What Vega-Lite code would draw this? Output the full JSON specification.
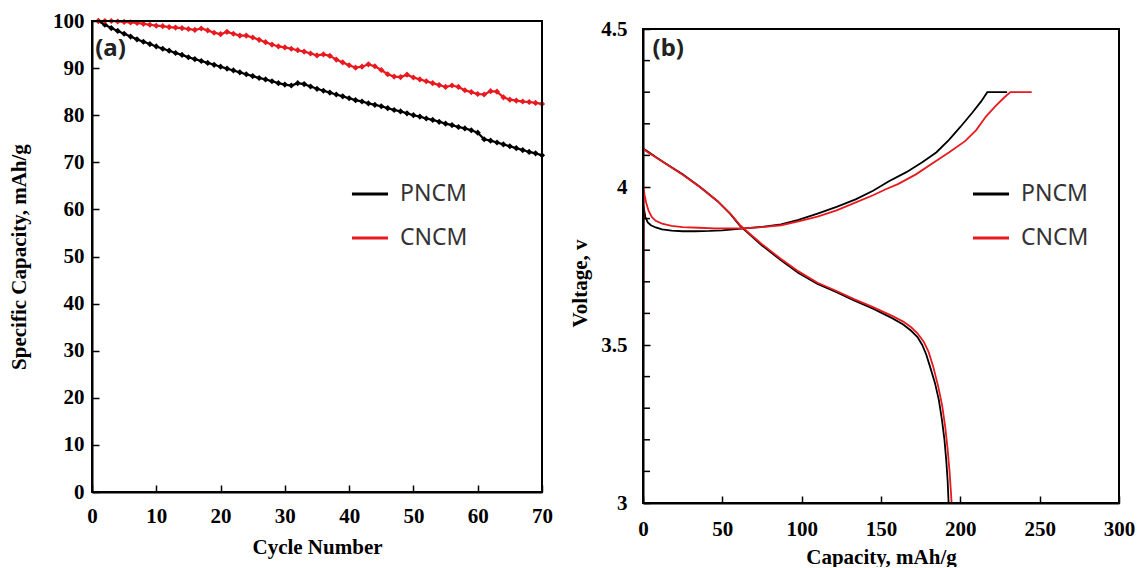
{
  "$schema": "https://vega.github.io/schema/vega-lite/v6.json",
  "padding": {"left": 8, "top": 10, "right": 0, "bottom": 0},
  "background": "white",
  "config": {
    "view": {"stroke": null},
    "axis": {"labelFont": "Liberation Serif", "labelFontWeight": "bold", "labelFontSize": 21, "labelColor": "black", "titleFont": "Liberation Serif", "titleFontWeight": "bold", "titleFontSize": 21, "titleColor": "black", "domainColor": "black", "domainWidth": 2, "tickColor": "black", "tickWidth": 1.5, "tickSize": -7, "grid": false, "labelOverlap": false, "labelFlush": false},
    "legend": {"orient": "none", "title": null, "symbolType": "stroke", "symbolSize": 1300, "symbolStrokeWidth": 3, "labelFont": "Noto Sans", "labelFontSize": 23, "labelColor": "#333333", "rowPadding": 12, "labelOffset": 10}
  },
  "datasets": {
    "cycles": [
      {"cycle":1,"sample":"PNCM","cap":100.0},{"cycle":2,"sample":"PNCM","cap":99.2},{"cycle":3,"sample":"PNCM","cap":98.5},{"cycle":4,"sample":"PNCM","cap":97.9},{"cycle":5,"sample":"PNCM","cap":97.3},{"cycle":6,"sample":"PNCM","cap":96.7},{"cycle":7,"sample":"PNCM","cap":96.1},{"cycle":8,"sample":"PNCM","cap":95.6},{"cycle":9,"sample":"PNCM","cap":95.1},{"cycle":10,"sample":"PNCM","cap":94.6},
      {"cycle":11,"sample":"PNCM","cap":94.1},{"cycle":12,"sample":"PNCM","cap":93.7},{"cycle":13,"sample":"PNCM","cap":93.2},{"cycle":14,"sample":"PNCM","cap":92.8},{"cycle":15,"sample":"PNCM","cap":92.3},{"cycle":16,"sample":"PNCM","cap":91.9},{"cycle":17,"sample":"PNCM","cap":91.5},{"cycle":18,"sample":"PNCM","cap":91.1},{"cycle":19,"sample":"PNCM","cap":90.7},{"cycle":20,"sample":"PNCM","cap":90.3},
      {"cycle":21,"sample":"PNCM","cap":89.9},{"cycle":22,"sample":"PNCM","cap":89.5},{"cycle":23,"sample":"PNCM","cap":89.1},{"cycle":24,"sample":"PNCM","cap":88.7},{"cycle":25,"sample":"PNCM","cap":88.3},{"cycle":26,"sample":"PNCM","cap":87.9},{"cycle":27,"sample":"PNCM","cap":87.6},{"cycle":28,"sample":"PNCM","cap":87.2},{"cycle":29,"sample":"PNCM","cap":86.8},{"cycle":30,"sample":"PNCM","cap":86.5},
      {"cycle":31,"sample":"PNCM","cap":86.3},{"cycle":32,"sample":"PNCM","cap":86.8},{"cycle":33,"sample":"PNCM","cap":86.6},{"cycle":34,"sample":"PNCM","cap":86.1},{"cycle":35,"sample":"PNCM","cap":85.6},{"cycle":36,"sample":"PNCM","cap":85.2},{"cycle":37,"sample":"PNCM","cap":84.8},{"cycle":38,"sample":"PNCM","cap":84.4},{"cycle":39,"sample":"PNCM","cap":84.0},{"cycle":40,"sample":"PNCM","cap":83.6},
      {"cycle":41,"sample":"PNCM","cap":83.2},{"cycle":42,"sample":"PNCM","cap":82.9},{"cycle":43,"sample":"PNCM","cap":82.5},{"cycle":44,"sample":"PNCM","cap":82.2},{"cycle":45,"sample":"PNCM","cap":81.9},{"cycle":46,"sample":"PNCM","cap":81.5},{"cycle":47,"sample":"PNCM","cap":81.1},{"cycle":48,"sample":"PNCM","cap":80.8},{"cycle":49,"sample":"PNCM","cap":80.4},{"cycle":50,"sample":"PNCM","cap":80.0},
      {"cycle":51,"sample":"PNCM","cap":79.7},{"cycle":52,"sample":"PNCM","cap":79.3},{"cycle":53,"sample":"PNCM","cap":79.0},{"cycle":54,"sample":"PNCM","cap":78.6},{"cycle":55,"sample":"PNCM","cap":78.2},{"cycle":56,"sample":"PNCM","cap":77.9},{"cycle":57,"sample":"PNCM","cap":77.5},{"cycle":58,"sample":"PNCM","cap":77.2},{"cycle":59,"sample":"PNCM","cap":76.8},{"cycle":60,"sample":"PNCM","cap":76.3},
      {"cycle":61,"sample":"PNCM","cap":74.9},{"cycle":62,"sample":"PNCM","cap":74.6},{"cycle":63,"sample":"PNCM","cap":74.2},{"cycle":64,"sample":"PNCM","cap":73.8},{"cycle":65,"sample":"PNCM","cap":73.4},{"cycle":66,"sample":"PNCM","cap":73.0},{"cycle":67,"sample":"PNCM","cap":72.6},{"cycle":68,"sample":"PNCM","cap":72.2},{"cycle":69,"sample":"PNCM","cap":71.9},{"cycle":70,"sample":"PNCM","cap":71.5},
      {"cycle":1,"sample":"CNCM","cap":100.0},{"cycle":2,"sample":"CNCM","cap":100.0},{"cycle":3,"sample":"CNCM","cap":100.0},{"cycle":4,"sample":"CNCM","cap":99.9},{"cycle":5,"sample":"CNCM","cap":99.8},{"cycle":6,"sample":"CNCM","cap":99.7},{"cycle":7,"sample":"CNCM","cap":99.6},{"cycle":8,"sample":"CNCM","cap":99.4},{"cycle":9,"sample":"CNCM","cap":99.2},{"cycle":10,"sample":"CNCM","cap":99.0},
      {"cycle":11,"sample":"CNCM","cap":98.9},{"cycle":12,"sample":"CNCM","cap":98.7},{"cycle":13,"sample":"CNCM","cap":98.6},{"cycle":14,"sample":"CNCM","cap":98.5},{"cycle":15,"sample":"CNCM","cap":98.3},{"cycle":16,"sample":"CNCM","cap":98.1},{"cycle":17,"sample":"CNCM","cap":98.4},{"cycle":18,"sample":"CNCM","cap":98.0},{"cycle":19,"sample":"CNCM","cap":97.5},{"cycle":20,"sample":"CNCM","cap":97.2},
      {"cycle":21,"sample":"CNCM","cap":97.7},{"cycle":22,"sample":"CNCM","cap":97.3},{"cycle":23,"sample":"CNCM","cap":96.9},{"cycle":24,"sample":"CNCM","cap":96.9},{"cycle":25,"sample":"CNCM","cap":96.5},{"cycle":26,"sample":"CNCM","cap":96.0},{"cycle":27,"sample":"CNCM","cap":95.5},{"cycle":28,"sample":"CNCM","cap":95.0},{"cycle":29,"sample":"CNCM","cap":94.6},{"cycle":30,"sample":"CNCM","cap":94.4},
      {"cycle":31,"sample":"CNCM","cap":94.1},{"cycle":32,"sample":"CNCM","cap":93.8},{"cycle":33,"sample":"CNCM","cap":93.5},{"cycle":34,"sample":"CNCM","cap":93.1},{"cycle":35,"sample":"CNCM","cap":92.7},{"cycle":36,"sample":"CNCM","cap":92.9},{"cycle":37,"sample":"CNCM","cap":92.6},{"cycle":38,"sample":"CNCM","cap":91.8},{"cycle":39,"sample":"CNCM","cap":91.2},{"cycle":40,"sample":"CNCM","cap":90.6},
      {"cycle":41,"sample":"CNCM","cap":90.1},{"cycle":42,"sample":"CNCM","cap":90.3},{"cycle":43,"sample":"CNCM","cap":90.8},{"cycle":44,"sample":"CNCM","cap":90.4},{"cycle":45,"sample":"CNCM","cap":89.6},{"cycle":46,"sample":"CNCM","cap":88.7},{"cycle":47,"sample":"CNCM","cap":88.2},{"cycle":48,"sample":"CNCM","cap":88.1},{"cycle":49,"sample":"CNCM","cap":88.6},{"cycle":50,"sample":"CNCM","cap":88.0},
      {"cycle":51,"sample":"CNCM","cap":87.6},{"cycle":52,"sample":"CNCM","cap":87.2},{"cycle":53,"sample":"CNCM","cap":86.8},{"cycle":54,"sample":"CNCM","cap":86.4},{"cycle":55,"sample":"CNCM","cap":86.0},{"cycle":56,"sample":"CNCM","cap":86.3},{"cycle":57,"sample":"CNCM","cap":86.0},{"cycle":58,"sample":"CNCM","cap":85.3},{"cycle":59,"sample":"CNCM","cap":84.9},{"cycle":60,"sample":"CNCM","cap":84.5},
      {"cycle":61,"sample":"CNCM","cap":84.4},{"cycle":62,"sample":"CNCM","cap":85.1},{"cycle":63,"sample":"CNCM","cap":85.0},{"cycle":64,"sample":"CNCM","cap":83.8},{"cycle":65,"sample":"CNCM","cap":83.3},{"cycle":66,"sample":"CNCM","cap":83.1},{"cycle":67,"sample":"CNCM","cap":82.9},{"cycle":68,"sample":"CNCM","cap":82.8},{"cycle":69,"sample":"CNCM","cap":82.6},{"cycle":70,"sample":"CNCM","cap":82.4}
    ],
    "volt": [
      {"sample":"PNCM","step":"charge","c":0,"v":3.27},{"sample":"PNCM","step":"charge","c":0.3,"v":3.94},{"sample":"PNCM","step":"charge","c":1.5,"v":3.905},{"sample":"PNCM","step":"charge","c":3,"v":3.888},{"sample":"PNCM","step":"charge","c":5,"v":3.879},{"sample":"PNCM","step":"charge","c":8,"v":3.872},{"sample":"PNCM","step":"charge","c":12,"v":3.866},{"sample":"PNCM","step":"charge","c":18,"v":3.862},{"sample":"PNCM","step":"charge","c":25,"v":3.86},{"sample":"PNCM","step":"charge","c":33,"v":3.86},{"sample":"PNCM","step":"charge","c":42,"v":3.861},{"sample":"PNCM","step":"charge","c":50,"v":3.863},{"sample":"PNCM","step":"charge","c":62,"v":3.868},{"sample":"PNCM","step":"charge","c":75,"v":3.874},{"sample":"PNCM","step":"charge","c":87,"v":3.882},{"sample":"PNCM","step":"charge","c":98,"v":3.896},{"sample":"PNCM","step":"charge","c":110,"v":3.916},{"sample":"PNCM","step":"charge","c":122,"v":3.937},{"sample":"PNCM","step":"charge","c":134,"v":3.961},{"sample":"PNCM","step":"charge","c":145,"v":3.988},{"sample":"PNCM","step":"charge","c":155,"v":4.018},{"sample":"PNCM","step":"charge","c":166,"v":4.047},{"sample":"PNCM","step":"charge","c":176,"v":4.078},{"sample":"PNCM","step":"charge","c":185,"v":4.11},{"sample":"PNCM","step":"charge","c":193,"v":4.15},{"sample":"PNCM","step":"charge","c":200,"v":4.19},{"sample":"PNCM","step":"charge","c":207.5,"v":4.235},{"sample":"PNCM","step":"charge","c":213,"v":4.27},{"sample":"PNCM","step":"charge","c":217,"v":4.3},{"sample":"PNCM","step":"charge","c":229.5,"v":4.3},
      {"sample":"PNCM","step":"discharge","c":0,"v":4.122},{"sample":"PNCM","step":"discharge","c":3,"v":4.112},{"sample":"PNCM","step":"discharge","c":8,"v":4.095},{"sample":"PNCM","step":"discharge","c":15,"v":4.072},{"sample":"PNCM","step":"discharge","c":25,"v":4.04},{"sample":"PNCM","step":"discharge","c":36,"v":4.0},{"sample":"PNCM","step":"discharge","c":47,"v":3.955},{"sample":"PNCM","step":"discharge","c":55,"v":3.915},{"sample":"PNCM","step":"discharge","c":61,"v":3.878},{"sample":"PNCM","step":"discharge","c":68,"v":3.846},{"sample":"PNCM","step":"discharge","c":75,"v":3.815},{"sample":"PNCM","step":"discharge","c":87,"v":3.768},{"sample":"PNCM","step":"discharge","c":98,"v":3.728},{"sample":"PNCM","step":"discharge","c":110,"v":3.693},{"sample":"PNCM","step":"discharge","c":122,"v":3.667},{"sample":"PNCM","step":"discharge","c":133,"v":3.641},{"sample":"PNCM","step":"discharge","c":145,"v":3.615},{"sample":"PNCM","step":"discharge","c":157,"v":3.585},{"sample":"PNCM","step":"discharge","c":164,"v":3.565},{"sample":"PNCM","step":"discharge","c":169,"v":3.545},{"sample":"PNCM","step":"discharge","c":173,"v":3.525},{"sample":"PNCM","step":"discharge","c":176,"v":3.5},{"sample":"PNCM","step":"discharge","c":178.5,"v":3.47},{"sample":"PNCM","step":"discharge","c":181,"v":3.43},{"sample":"PNCM","step":"discharge","c":184,"v":3.38},{"sample":"PNCM","step":"discharge","c":186.5,"v":3.325},{"sample":"PNCM","step":"discharge","c":188.5,"v":3.26},{"sample":"PNCM","step":"discharge","c":190,"v":3.2},{"sample":"PNCM","step":"discharge","c":191.2,"v":3.13},{"sample":"PNCM","step":"discharge","c":192,"v":3.07},{"sample":"PNCM","step":"discharge","c":192.6,"v":3.0},
      {"sample":"CNCM","step":"charge","c":0,"v":3.27},{"sample":"CNCM","step":"charge","c":0.3,"v":4.0},{"sample":"CNCM","step":"charge","c":1,"v":3.975},{"sample":"CNCM","step":"charge","c":2,"v":3.95},{"sample":"CNCM","step":"charge","c":3.5,"v":3.925},{"sample":"CNCM","step":"charge","c":5.5,"v":3.905},{"sample":"CNCM","step":"charge","c":8,"v":3.893},{"sample":"CNCM","step":"charge","c":12,"v":3.884},{"sample":"CNCM","step":"charge","c":18,"v":3.877},{"sample":"CNCM","step":"charge","c":25,"v":3.873},{"sample":"CNCM","step":"charge","c":35,"v":3.871},{"sample":"CNCM","step":"charge","c":45,"v":3.869},{"sample":"CNCM","step":"charge","c":55,"v":3.869},{"sample":"CNCM","step":"charge","c":63,"v":3.869},{"sample":"CNCM","step":"charge","c":75,"v":3.873},{"sample":"CNCM","step":"charge","c":87,"v":3.879},{"sample":"CNCM","step":"charge","c":98,"v":3.891},{"sample":"CNCM","step":"charge","c":110,"v":3.906},{"sample":"CNCM","step":"charge","c":122,"v":3.926},{"sample":"CNCM","step":"charge","c":133,"v":3.949},{"sample":"CNCM","step":"charge","c":145,"v":3.974},{"sample":"CNCM","step":"charge","c":153,"v":3.993},{"sample":"CNCM","step":"charge","c":161,"v":4.01},{"sample":"CNCM","step":"charge","c":172,"v":4.04},{"sample":"CNCM","step":"charge","c":183,"v":4.077},{"sample":"CNCM","step":"charge","c":193,"v":4.11},{"sample":"CNCM","step":"charge","c":203,"v":4.145},{"sample":"CNCM","step":"charge","c":210,"v":4.18},{"sample":"CNCM","step":"charge","c":216,"v":4.222},{"sample":"CNCM","step":"charge","c":222,"v":4.255},{"sample":"CNCM","step":"charge","c":227,"v":4.28},{"sample":"CNCM","step":"charge","c":231.5,"v":4.3},{"sample":"CNCM","step":"charge","c":245,"v":4.3},
      {"sample":"CNCM","step":"discharge","c":0,"v":4.12},{"sample":"CNCM","step":"discharge","c":3,"v":4.11},{"sample":"CNCM","step":"discharge","c":8,"v":4.094},{"sample":"CNCM","step":"discharge","c":15,"v":4.071},{"sample":"CNCM","step":"discharge","c":25,"v":4.039},{"sample":"CNCM","step":"discharge","c":36,"v":3.999},{"sample":"CNCM","step":"discharge","c":47,"v":3.955},{"sample":"CNCM","step":"discharge","c":55,"v":3.916},{"sample":"CNCM","step":"discharge","c":61,"v":3.88},{"sample":"CNCM","step":"discharge","c":68,"v":3.849},{"sample":"CNCM","step":"discharge","c":75,"v":3.819},{"sample":"CNCM","step":"discharge","c":87,"v":3.772},{"sample":"CNCM","step":"discharge","c":98,"v":3.733},{"sample":"CNCM","step":"discharge","c":110,"v":3.697},{"sample":"CNCM","step":"discharge","c":122,"v":3.671},{"sample":"CNCM","step":"discharge","c":133,"v":3.645},{"sample":"CNCM","step":"discharge","c":145,"v":3.62},{"sample":"CNCM","step":"discharge","c":157,"v":3.592},{"sample":"CNCM","step":"discharge","c":164,"v":3.574},{"sample":"CNCM","step":"discharge","c":169,"v":3.556},{"sample":"CNCM","step":"discharge","c":173,"v":3.537},{"sample":"CNCM","step":"discharge","c":177,"v":3.51},{"sample":"CNCM","step":"discharge","c":180,"v":3.478},{"sample":"CNCM","step":"discharge","c":183,"v":3.43},{"sample":"CNCM","step":"discharge","c":186,"v":3.37},{"sample":"CNCM","step":"discharge","c":188.5,"v":3.31},{"sample":"CNCM","step":"discharge","c":190.5,"v":3.24},{"sample":"CNCM","step":"discharge","c":192,"v":3.17},{"sample":"CNCM","step":"discharge","c":193.2,"v":3.1},{"sample":"CNCM","step":"discharge","c":194,"v":3.04},{"sample":"CNCM","step":"discharge","c":194.5,"v":3.0}
    ],
    "minorTicks": [
      {"v":3.1},{"v":3.2},{"v":3.3},{"v":3.4},{"v":3.6},{"v":3.7},{"v":3.8},{"v":3.9},{"v":4.1},{"v":4.2},{"v":4.3},{"v":4.4}
    ]
  },
  "hconcat": [
    {
      "width": 450,
      "height": 471,
      "layer": [
        {
          "data": {"name": "cycles"},
          "mark": {"type": "line", "strokeWidth": 2.2},
          "encoding": {
            "x": {"field": "cycle", "type": "quantitative", "scale": {"domain": [0, 70], "nice": false}, "axis": {"title": "Cycle Number", "values": [0,10,20,30,40,50,60,70], "labelPadding": 20, "titlePadding": 10, "labelFlush": false}},
            "y": {"field": "cap", "type": "quantitative", "scale": {"domain": [0, 100], "nice": false}, "axis": {"title": "Specific Capacity, mAh/g", "values": [0,10,20,30,40,50,60,70,80,90,100], "labelPadding": 15, "titlePadding": 23, "labelFlush": false}},
            "color": {"field": "sample", "type": "nominal", "scale": {"domain": ["PNCM", "CNCM"], "range": ["#000000", "#e8191f"]}, "legend": {"legendX": 258, "legendY": 153}}
          }
        },
        {
          "data": {"name": "cycles"},
          "mark": {"type": "point", "shape": "diamond", "filled": true, "size": 38, "opacity": 1},
          "encoding": {
            "x": {"field": "cycle", "type": "quantitative"},
            "y": {"field": "cap", "type": "quantitative"},
            "color": {"field": "sample", "type": "nominal", "legend": null}
          }
        },
        {
          "data": {"values": [{}]},
          "mark": {"type": "rect", "filled": false, "stroke": "black", "strokeWidth": 2},
          "encoding": {"x": {"datum": 0}, "x2": {"datum": 70}, "y": {"datum": 0}, "y2": {"datum": 100}}
        },
        {
          "data": {"values": [{"t": "(a)"}]},
          "mark": {"type": "text", "font": "Noto Sans", "fontSize": 24, "fontWeight": "bold", "color": "#222222", "align": "left", "baseline": "middle"},
          "encoding": {"x": {"datum": 0.5}, "y": {"datum": 94}, "text": {"field": "t"}}
        }
      ]
    },
    {
      "width": 476,
      "height": 482,
      "layer": [
        {
          "data": {"name": "volt"},
          "mark": {"type": "line", "strokeWidth": 1.8},
          "encoding": {
            "x": {"field": "c", "type": "quantitative", "scale": {"domain": [0, 300], "nice": false}, "axis": {"title": "Capacity, mAh/g", "values": [0,50,100,150,200,250,300], "labelPadding": 22, "titlePadding": 7, "labelFlush": false}},
            "y": {"field": "v", "type": "quantitative", "scale": {"domain": [3, 4.5], "nice": false, "zero": false, "range": [482, 8]}, "axis": {"title": "Voltage, v", "titleY": 262, "values": [3, 3.5, 4, 4.5], "format": "~g", "labelPadding": 23, "titlePadding": 10, "labelFlush": false}},
            "color": {"field": "sample", "type": "nominal", "scale": {"domain": ["PNCM", "CNCM"], "range": ["#000000", "#e8191f"]}, "legend": {"legendX": 328, "legendY": 153}},
            "detail": {"field": "step"}
          }
        },
        {
          "data": {"name": "minorTicks"},
          "mark": {"type": "rule", "color": "black", "strokeWidth": 1.5},
          "encoding": {"y": {"field": "v", "type": "quantitative"}, "x": {"datum": 0}, "x2": {"datum": 4.4}}
        },
        {
          "data": {"values": [{}]},
          "mark": {"type": "rect", "filled": false, "stroke": "black", "strokeWidth": 2},
          "encoding": {"x": {"datum": 0}, "x2": {"datum": 300}, "y": {"datum": 3}, "y2": {"datum": 4.5}}
        },
        {
          "data": {"values": [{"t": "(b)"}]},
          "mark": {"type": "text", "font": "Noto Sans", "fontSize": 24, "fontWeight": "bold", "color": "#222222", "align": "left", "baseline": "middle"},
          "encoding": {"x": {"datum": 6}, "y": {"datum": 4.437}, "text": {"field": "t"}}
        }
      ]
    }
  ],
  "spacing": 101,
  "bounds": "flush",
  "resolve": {"legend": {"color": "independent"}, "scale": {"x": "independent", "y": "independent"}}
}
